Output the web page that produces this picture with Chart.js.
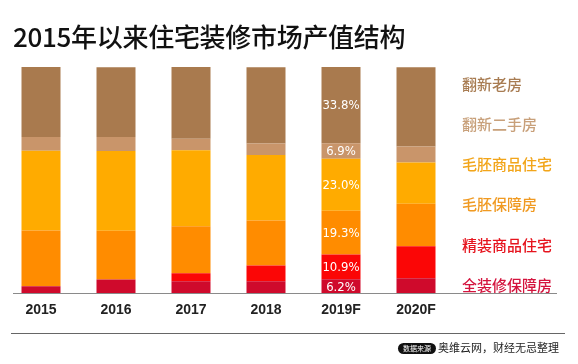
<!DOCTYPE html>
<html lang="zh">
<head>
<meta charset="UTF-8">
<title>2015年以来住宅装修市场产值结构</title>
<script src="https://cdn.jsdelivr.net/npm/chart.js@4"></script>
<style>
    body { margin: 0; background: #fff; font-family: "Noto Sans CJK SC", sans-serif; }
    #wrap { position: relative; width: 578px; height: 364px; overflow: hidden; }
    #title { position: absolute; left: 13px; top: 20px; font-size: 26px; line-height: 32px; font-weight: 500; color: #111; letter-spacing: -0.3px; }
    #rule { position: absolute; left: 11px; top: 333px; width: 554px; height: 1px; background: #666; }
    #source { position: absolute; right: 19px; top: 340px; font-size: 11px; line-height: 14px; color: #222; white-space: nowrap; }
    #source span { display: inline-block; background: #111; color: #fff; font-size: 7px; line-height: 11px; padding: 0 5px; border-radius: 6px; margin-right: 2px; vertical-align: 1px; }
    canvas { position: absolute; left: 0; top: 0; }
</style>
</head>
<body>
<div id="wrap">
    <canvas id="c" width="578" height="364"></canvas>
    <div id="title">2015年以来住宅装修市场产值结构</div>
    <div id="rule"></div>
    <div id="source"><span>数据来源</span>奥维云网，财经无忌整理</div>
</div>

<script>
    // years on the x axis
    const years = ['2015', '2016', '2017', '2018', '2019F', '2020F'];

    // shares in % (bottom to top)
    const quanZhuangBaoZhang = [3.1, 6.1, 5.3, 5.3, 6.2, 6.6];     // 全装修保障房
    const jingZhuangShangPin = [0, 0, 3.5, 7.0, 10.9, 14.2];       // 精装商品住宅
    const maoPiBaoZhang = [24.6, 21.5, 20.8, 19.8, 19.3, 18.7];    // 毛胚保障房
    const maoPiShangPin = [35.3, 35.3, 33.6, 29.0, 23.0, 18.3];    // 毛胚商品住宅
    const fanXinErShou = [6.1, 6.1, 5.1, 5.1, 6.9, 7.0];           // 翻新二手房
    const fanXinLaoFang = [30.9, 30.9, 31.7, 33.7, 33.8, 35.1];    // 翻新老房

    const seriesNames = ['全装修保障房', '精装商品住宅', '毛胚保障房', '毛胚商品住宅', '翻新二手房', '翻新老房'];
    const seriesData = [quanZhuangBaoZhang, jingZhuangShangPin, maoPiBaoZhang, maoPiShangPin, fanXinErShou, fanXinLaoFang];
    const barColors = ['#cf0a2c', '#fb0606', '#ff8c00', '#ffab00', '#c9956a', '#a97a4e'];
    const textColors = ['#d4143e', '#e6141e', '#f09a22', '#f2a51a', '#c8a07a', '#a87c52'];

    // only the 2019F bar carries value labels
    const labelIndex = 4;

    const extras = {
        id: 'extras',
        afterDatasetsDraw(chart) {
            const c = chart.ctx;
            const area = chart.chartArea;

            // value labels inside 2019F bar
            c.save();
            c.fillStyle = '#fff';
            c.font = '13px "DejaVu Sans Condensed"';
            c.textAlign = 'center';
            c.textBaseline = 'middle';
            chart.data.datasets.forEach((ds, i) => {
                const bar = chart.getDatasetMeta(i).data[labelIndex];
                const v = ds.data[labelIndex];
                c.fillText(v.toFixed(1) + '%', bar.x, (bar.y + bar.base) / 2 + 1);
            });

            // baseline under the bars
            c.strokeStyle = '#8a8a8a';
            c.lineWidth = 1;
            c.beginPath();
            c.moveTo(13, Math.round(area.bottom) + 0.5);
            c.lineTo(557, Math.round(area.bottom) + 0.5);
            c.stroke();

            // legend on the right, top to bottom
            c.font = '500 15px "Noto Sans CJK SC"';
            c.textAlign = 'left';
            for (let k = 0; k < seriesNames.length; k++) {
                const i = seriesNames.length - 1 - k;
                c.fillStyle = textColors[i];
                c.fillText(seriesNames[i], 462, 84 + k * 40.2);
            }
            c.restore();
        }
    };

    new Chart(document.getElementById('c'), {
        type: 'bar',
        data: {
            labels: years,
            datasets: seriesNames.map((name, i) => ({
                label: name,
                data: seriesData[i],
                backgroundColor: barColors[i],
                borderWidth: 0,
                barPercentage: 0.52,
                categoryPercentage: 1
            }))
        },
        options: {
            responsive: false,
            animation: false,
            layout: { padding: { left: 3.5, right: 124.5, top: 67, bottom: 36 } },
            plugins: {
                legend: { display: false },
                tooltip: { enabled: false }
            },
            scales: {
                x: {
                    stacked: true,
                    grid: { display: false, drawTicks: false },
                    border: { display: false },
                    ticks: {
                        padding: 9,
                        color: '#222',
                        font: { family: 'Liberation Sans', size: 14, weight: 'bold' }
                    }
                },
                y: {
                    stacked: true,
                    display: false,
                    min: 0,
                    max: 100
                }
            }
        },
        plugins: [extras]
    });
</script>
</body>
</html>
